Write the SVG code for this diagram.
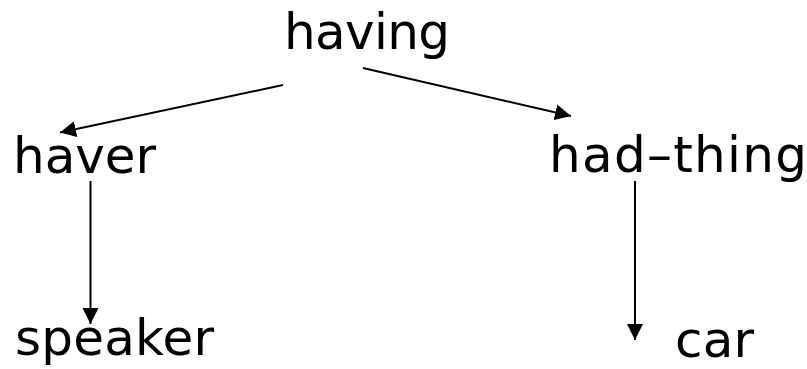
<svg xmlns="http://www.w3.org/2000/svg" width="807" height="369" viewBox="0 0 807 369">
<style>
text{font-family:"DejaVu Sans","Liberation Sans",sans-serif;font-size:50px;fill:#000}
.c{stroke:#000;stroke-width:2;fill:none;marker-end:url(#ah)}
</style>
<defs>
<marker id="ah" markerUnits="userSpaceOnUse" markerWidth="18" markerHeight="18" viewBox="0 0 18 18" refX="16" refY="9" orient="auto">
<path d="M0,1 L16,9 L0,17 Z" fill="#000"/>
</marker>
</defs>
<rect width="807" height="369" fill="#fff"/>
<g id="connectors">
<line class="c" x1="283" y1="85" x2="60" y2="132.5"/>
<line class="c" x1="363" y1="68" x2="571" y2="116"/>
<line class="c" x1="90.5" y1="181" x2="90.5" y2="324"/>
<line class="c" x1="635" y1="181" x2="635" y2="340"/>
</g>
<g id="having"><text x="284" y="49" textLength="166" lengthAdjust="spacing">having</text></g>
<g id="haver"><text x="13" y="173" textLength="143" lengthAdjust="spacing">haver</text></g>
<g id="had-thing"><text x="549" y="172" textLength="258" lengthAdjust="spacing">had–thing</text></g>
<g id="speaker"><text x="15" y="355" textLength="199" lengthAdjust="spacing">speaker</text></g>
<g id="car"><text x="675" y="357" textLength="79" lengthAdjust="spacing">car</text></g>
</svg>
